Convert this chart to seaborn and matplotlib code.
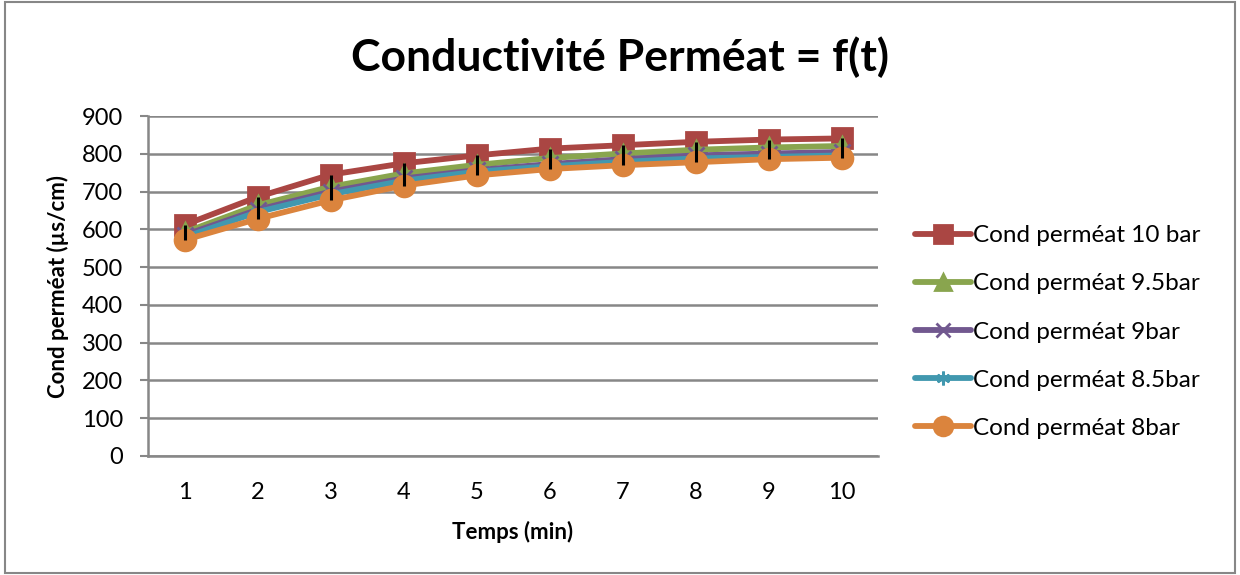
import pandas as pd
import matplotlib.pyplot as plt
import seaborn as sns
from matplotlib.patches import Rectangle

# data
temps = [1, 2, 3, 4, 5, 6, 7, 8, 9, 10]
cond_10bar = [612, 686, 745, 775, 796, 814, 823, 832, 838, 841]
cond_9_5bar = [592, 664, 713, 748, 771, 789, 801, 811, 817, 821]
cond_9bar = [585, 652, 700, 735, 757, 773, 786, 796, 801, 805]
cond_8_5bar = [579, 646, 693, 729, 753, 767, 779, 788, 792, 796]
cond_8bar = [572, 628, 677, 716, 743, 760, 770, 778, 786, 790]

series_names = ['Cond perméat 10 bar', 'Cond perméat 9.5bar', 'Cond perméat 9bar',
                'Cond perméat 8.5bar', 'Cond perméat 8bar']
series_values = [cond_10bar, cond_9_5bar, cond_9bar, cond_8_5bar, cond_8bar]

rows = []
for name, vals in zip(series_names, series_values):
    for t, v in zip(temps, vals):
        rows.append({'Temps': t, 'Cond': v, 'Serie': name})
df = pd.DataFrame(rows)

sns.set_theme(style="white")
plt.rcParams['font.family'] = ['Lato', 'DejaVu Sans']
plt.rcParams['text.color'] = 'black'
plt.rcParams['xtick.color'] = 'black'
plt.rcParams['ytick.color'] = 'black'
plt.rcParams['axes.labelcolor'] = 'black'

colors = ['#AA4643', '#89A54E', '#71588F', '#4198AF', '#DB843D']
markers = ['s', '^', 'x', (6, 2, 0), 'o']
msizes = [14, 13, 11, 11, 15]

fig = plt.figure(figsize=(12.4, 5.75), dpi=100)
ax = fig.add_axes([0.1194, 0.207, 0.5887, 0.591])

for name, col, mk, ms in zip(series_names, colors, markers, msizes):
    sub = df[df['Serie'] == name]
    sns.lineplot(data=sub, x='Temps', y='Cond', ax=ax, color=col, linewidth=4.2,
                 marker=mk, markersize=ms, markeredgecolor=col, markeredgewidth=2,
                 label=name, estimator=None, sort=False)

# high-low lines between the highest and lowest series
hi = [max(v) for v in zip(*series_values)]
lo = [min(v) for v in zip(*series_values)]
ax.vlines(temps, lo, hi, colors='black', linewidth=2.2, zorder=5)

ax.set_xlim(0.5, 10.5)
ax.set_ylim(0, 900)
ax.set_xticks(temps)
ax.set_yticks(range(0, 901, 100))
ax.yaxis.grid(True, color='#878787', linewidth=1.8)
ax.set_axisbelow(True)
for side in ['top', 'right']:
    ax.spines[side].set_visible(False)
for side in ['left', 'bottom']:
    ax.spines[side].set_color('#878787')
    ax.spines[side].set_linewidth(1.8)
ax.tick_params(axis='y', left=True, length=6, width=1.5, color='#878787',
               labelcolor='black', labelsize=17, pad=12)
ax.tick_params(axis='x', bottom=False, labelsize=17, pad=13)

ax.set_xlabel('Temps (min)', fontsize=16, fontweight='bold', labelpad=13)
ax.set_ylabel('Cond perméat (µs/cm)', fontsize=16, fontweight='bold', labelpad=9)
fig.text(0.5, 0.9, 'Conductivité Perméat = f(t)', fontsize=32, fontweight='bold',
         ha='center', va='center')

leg = ax.legend(loc='center left', bbox_to_anchor=(0.72, 0.4226),
                bbox_transform=fig.transFigure, frameon=False, fontsize=17.5,
                handlelength=2.3, labelspacing=1.12, handletextpad=0.1,
                markerscale=0.9)

# outer chart border
fig.patches.append(Rectangle((0.004, 0.004), 0.992, 0.992, transform=fig.transFigure,
                             fill=False, edgecolor='#878787', linewidth=1.5))

plt.savefig('out.png', dpi=100)
